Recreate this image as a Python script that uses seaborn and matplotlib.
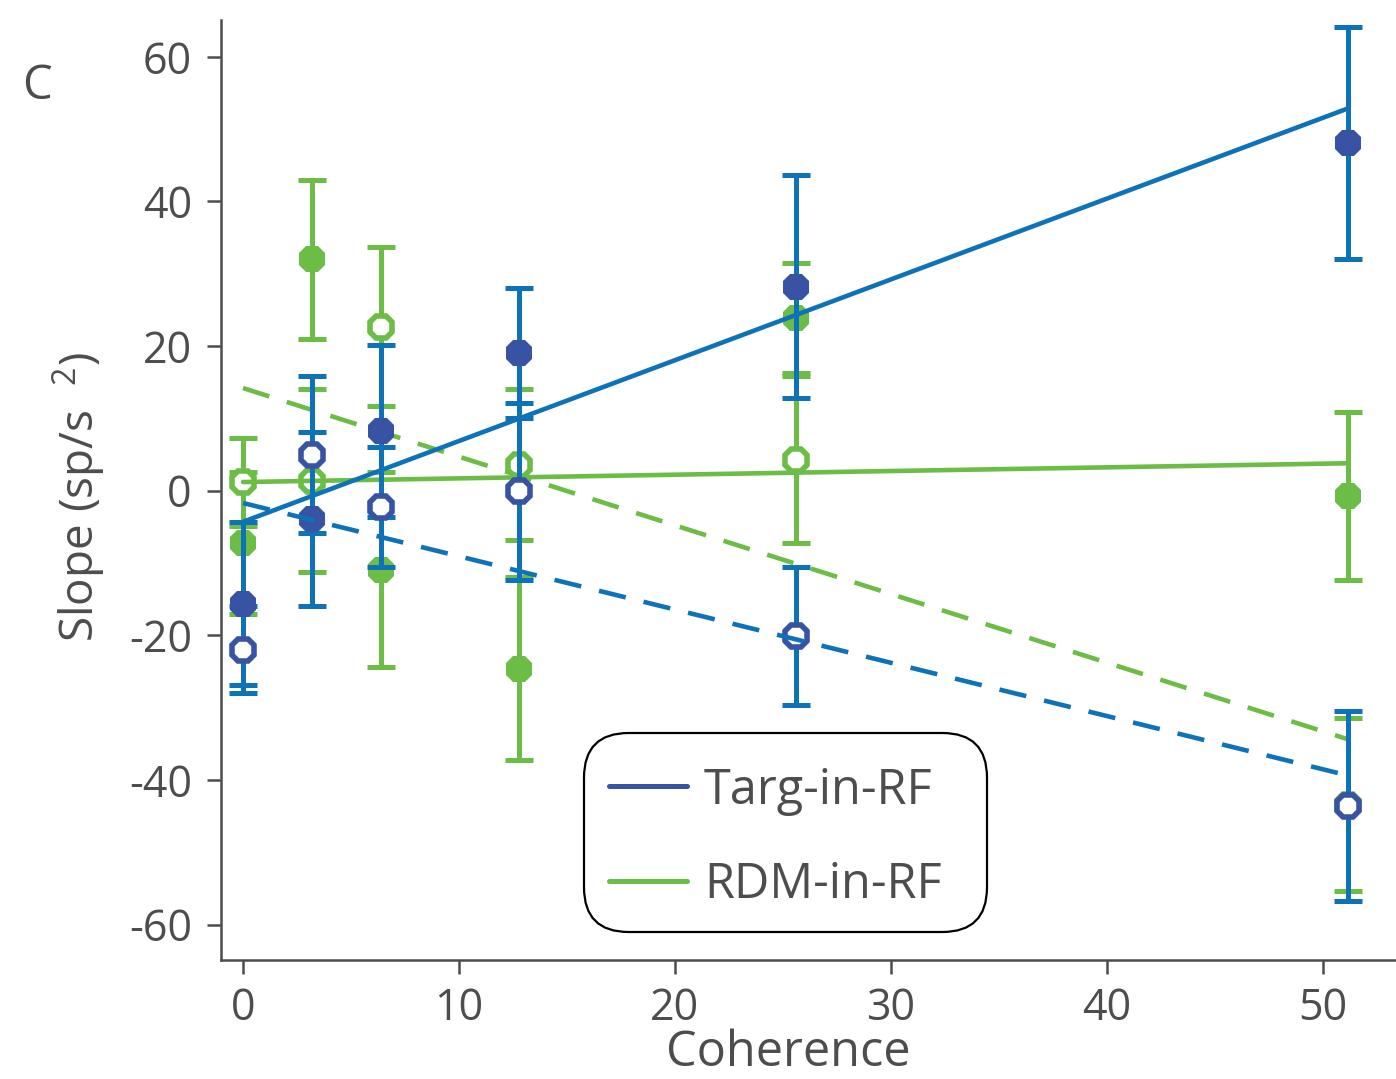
import matplotlib
matplotlib.use("Agg")
import matplotlib.pyplot as plt
import seaborn as sns
import numpy as np
import pandas as pd
from matplotlib.lines import Line2D
from matplotlib.patches import FancyBboxPatch

# ---- data ----
coherence = [0, 3.2, 6.4, 12.8, 25.6, 51.2]
targ_filled = [-15.6, -3.9, 8.3, 19.0, 28.2, 48.1]
targ_filled_err = [11.3, 12.0, 11.9, 9.0, 15.4, 16.0]
targ_open = [-22.0, 5.0, -2.3, -0.1, -20.1, -43.6]
targ_open_err = [6.0, 10.8, 8.3, 12.2, 9.6, 13.1]
rdm_filled = [-7.2, 32.0, -10.9, -24.6, 23.9, -0.7]
rdm_filled_err = [9.8, 11.0, 13.5, 12.6, 7.6, 11.6]
rdm_open = [1.2, 1.4, 22.7, 3.6, 4.3, -43.4]
rdm_open_err = [6.1, 12.7, 11.0, 10.4, 11.5, 11.9]

fit_x = [0, 51.2]
targ_filled_fit = [-4.3, 52.9]
targ_open_fit = [-1.7, -39.4]
rdm_filled_fit = [1.2, 3.8]
rdm_open_fit = [14.2, -34.4]

legend_labels = ["Targ-in-RF", "RDM-in-RF"]
x_ticks = [0, 10, 20, 30, 40, 50]
y_ticks = [-60, -40, -20, 0, 20, 40, 60]

# ---- style ----
sns.set_style("ticks")
FONT = ["Open Sans", "DejaVu Sans"]
plt.rcParams["font.family"] = FONT
plt.rcParams["mathtext.default"] = "regular"
plt.rcParams["axes.unicode_minus"] = False
TXT = "#4d4d4d"
DARKBLUE = "#3953a4"
BLUE = "#0e72b9"
GREEN = "#6bbd45"

fig = plt.figure(figsize=(13.96, 10.79), dpi=100)
ax = fig.add_axes([221/1396, 1-960/1079, 1-221/1396, (960-20)/1079])

eb_kw = dict(fmt="none", elinewidth=3.6, capsize=10, capthick=3.6)

def series(y, err, ecol, mcol, filled, z):
    ax.errorbar(coherence, y, yerr=err, ecolor=ecol, zorder=z, **eb_kw)
    if filled:
        ax.plot(coherence, y, ls="none", marker="8", ms=21, mfc=mcol, mec=mcol,
                mew=0, zorder=z + 0.5)
    else:
        ax.plot(coherence, y, ls="none", marker="8", ms=17, mfc="white", mec=mcol,
                mew=4.0, zorder=z + 0.5)

series(rdm_filled, rdm_filled_err, GREEN, GREEN, True, 2)
series(rdm_open, rdm_open_err, GREEN, GREEN, False, 2)

# fit lines
LW = 3.3
sns.lineplot(x=fit_x, y=rdm_filled_fit, ax=ax, color=GREEN, lw=LW, zorder=3)
sns.lineplot(x=fit_x, y=rdm_open_fit, ax=ax, color=GREEN, lw=LW,
             linestyle=(0, (6, 4)), zorder=3)

series(targ_filled, targ_filled_err, BLUE, DARKBLUE, True, 4)
series(targ_open, targ_open_err, BLUE, DARKBLUE, False, 4)

sns.lineplot(x=fit_x, y=targ_filled_fit, ax=ax, color=BLUE, lw=LW, zorder=6)
sns.lineplot(x=fit_x, y=targ_open_fit, ax=ax, color=BLUE, lw=LW,
             linestyle=(0, (6, 4)), zorder=6)

ax.set_xlim(-1.02, 53.4)
ax.set_ylim(-64.9, 65.1)
ax.set_xticks(x_ticks)
ax.set_yticks(y_ticks)
sns.despine(ax=ax)
for s in ["left", "bottom"]:
    ax.spines[s].set_color(TXT)
    ax.spines[s].set_linewidth(1.8)
ax.tick_params(axis="both", colors=TXT, width=1.8, length=10, labelsize=31,
               labelcolor=TXT)
ax.tick_params(axis="y", pad=11)
ax.tick_params(axis="x", pad=9)

ax.set_xlabel("Coherence", fontsize=35, color=TXT)
ax.set_ylabel("Slope (sp/s  $^{2}$)", fontsize=33, color=TXT)
ax.xaxis.set_label_coords(0.483, -0.073)
ax.yaxis.set_label_coords(-0.097, 0.492)

fig.text(22/1396, 1-86/1079, "C", fontsize=34, color=TXT, va="center", ha="left")

# legend box (drawn in figure coordinates, below the legend entries)
box = FancyBboxPatch((584/1396, 1-932/1079), (987-584)/1396, (932-733)/1079,
                     boxstyle="round,pad=0,rounding_size=0.032",
                     transform=fig.transFigure, facecolor="white",
                     edgecolor="black", lw=1.6, zorder=10,
                     mutation_aspect=1396/1079, clip_on=False)
ax.add_artist(box)

handles = [Line2D([], [], color=DARKBLUE, lw=3.6),
           Line2D([], [], color=GREEN, lw=3.6)]
leg = ax.legend(handles, legend_labels, loc="upper left",
                bbox_to_anchor=(609/1396, 1-766/1079), bbox_transform=fig.transFigure,
                fontsize=35, frameon=False, handlelength=1.6, handletextpad=0.35,
                labelspacing=0.92, borderpad=0, borderaxespad=0)
leg.set_zorder(11)
for t in leg.get_texts():
    t.set_color(TXT)

fig.savefig("out.png", dpi=100)
